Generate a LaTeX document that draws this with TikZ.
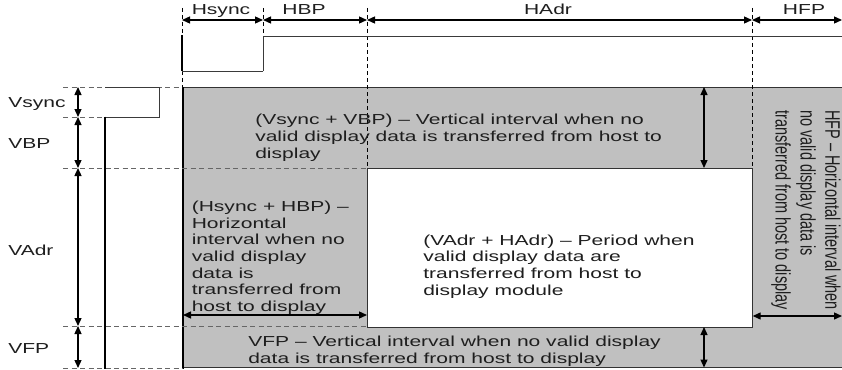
\documentclass[tikz,border=0pt]{standalone}
\usepackage{fontspec}
\setmainfont{Liberation Sans}
\usetikzlibrary{arrows.meta}

\definecolor{ink}{HTML}{1E1E1E}
\definecolor{panel}{HTML}{C0C0C0}
\definecolor{guidegray}{HTML}{666666}
\definecolor{wavegray}{HTML}{3A3A3A}
\definecolor{edge}{HTML}{333333}

\begin{document}
\begin{tikzpicture}[x=1pt,y=-1pt,
  lbl/.style={inner sep=0pt, font=\fontsize{14.5}{16.7}\selectfont, text=ink, xscale=1.45},
  note/.style={lbl, align=left, anchor=north west},
  guide/.style={draw=guidegray, line width=0.9pt, dash pattern=on 5pt off 3.5pt},
  vguide/.style={draw=black, line width=1pt, dash pattern=on 4pt off 3pt},
  dim/.style={{Triangle[length=8pt,width=7pt]}-{Triangle[length=8pt,width=7pt]}, line width=1.3pt, draw=black},
  wave/.style={draw=wavegray, line width=0.9pt},
  heavy/.style={draw=black, line width=2pt},
]
% page frame
\useasboundingbox (0,0) rectangle (842,369);
\fill[white] (0,0) rectangle (842,369);

% blanking area and active display window
\fill[panel] (183,87) rectangle (842,367.5);
\draw[edge, line width=0.8pt] (842,87) -- (183,87);
\draw[edge, line width=0.8pt] (183,367.5) -- (842,367.5);
\filldraw[fill=white, draw=edge, line width=1pt] (367,168) rectangle (752.7,327);
\draw[heavy] (183,87) -- (183,369);

% horizontal timing grid
\coordinate (h0) at (182,20);
\coordinate (h1) at (263,20);
\coordinate (h2) at (367,20);
\coordinate (h3) at (752,20);
\coordinate (h4) at (842,20);
\draw[vguide] (182,8) -- (182,87);
\draw[vguide] (263,8) -- (263,35);
\draw[vguide] (367,8) -- (367,168);
\draw[vguide] (752,8) -- (752,168);

% vertical timing grid
\coordinate (v0) at (78,87);
\coordinate (v1) at (78,117);
\coordinate (v2) at (78,168);
\coordinate (v3) at (78,326);
\coordinate (v4) at (78,368);
\draw[guide] (63,87) -- (182,87);
\draw[guide] (63,117) -- (105,117);
\draw[guide] (63,168) -- (367,168);
\draw[guide] (63,326) -- (367,326);
\draw[guide] (63,368) -- (183,368);

% Hsync waveform
\draw[wave] (263,71) -- (263,36) -- (842,36);
\draw[wave] (182,71) -- (263,71);
\draw[heavy, line width=1.4pt] (182,35) -- (182,71.4);

% Vsync waveform
\draw[wave] (105,87) -- (159,87) -- (159,117) -- (105,117);
\draw[heavy] (105,116.6) -- (105,369);

% horizontal period arrows
\draw[dim] (h0) -- (h1);
\draw[dim] (h1) -- (h2);
\draw[dim] (h2) -- (h3);
\draw[dim] (h3) -- (h4);

% vertical period arrows
\draw[dim] (v0) -- (v1);
\draw[dim] (v1) -- (v2);
\draw[dim] (v2) -- (v3);
\draw[dim] (v3) -- (v4);

% extent arrows inside the blanking area
\coordinate (bt) at (704,87);
\coordinate (bb) at (704,168);
\coordinate (ft) at (704,327);
\coordinate (fb) at (704,367.5);
\coordinate (ll) at (183,315);
\coordinate (lr) at (367,315);
\coordinate (rl) at (752.7,316);
\coordinate (rr) at (842,316);
\draw[dim] (bt) -- (bb);
\draw[dim] (ft) -- (fb);
\draw[dim] (ll) -- (lr);
\draw[dim] (rl) -- (rr);

% period labels
\node[lbl, anchor=base] (lHs) at (221,15) {Hsync};
\node[lbl, anchor=base] (lHb) at (304,15) {HBP};
\node[lbl, anchor=base] (lHa) at (548,15) {HAdr};
\node[lbl, anchor=base] (lHf) at (804,15) {HFP};
\node[lbl, anchor=base west] (lVs) at (8,107) {Vsync};
\node[lbl, anchor=base west] (lVb) at (8,148) {VBP};
\node[lbl, anchor=base west] (lVa) at (8,255.7) {VAdr};
\node[lbl, anchor=base west] (lVf) at (8,353) {VFP};

% region descriptions
\node[note] (tVB) at (255,114) {(Vsync + VBP) – Vertical interval when no\\valid display data is transferred from host to\\display};
\node[note] (tHB) at (191.5,200.7) {(Hsync + HBP) –\\Horizontal\\interval when no\\valid display\\data is\\transferred from\\host to display};
\node[note] (tAct) at (423,234.5) {(VAdr + HAdr) – Period when\\valid display data are\\transferred from host to\\display module};
\node[note] (tVF) at (248,335.7) {VFP – Vertical interval when no valid display\\data is transferred from host to display};
\node[note, font=\fontsize{14.5}{17.2}\selectfont, rotate=-90] (tHF) at (841,110) {HFP – Horizontal interval when\\no valid display data is\\transferred from host to display};
\end{tikzpicture}
\end{document}
